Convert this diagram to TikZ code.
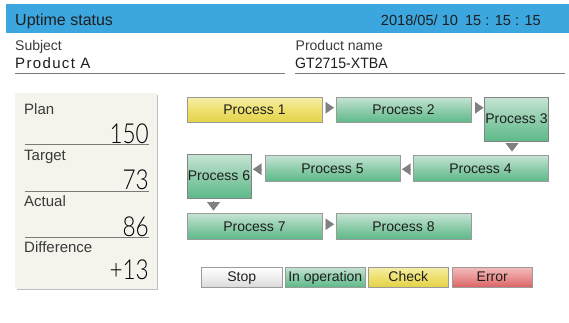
\documentclass[tikz,border=0pt]{standalone}
\usepackage{fontspec}
\setmainfont{Liberation Sans}
\newfontfamily\spaced[LetterSpace=9]{Liberation Sans}
\newfontfamily\narrowf[FakeStretch=0.94]{Liberation Sans}
\newfontfamily\thinfont[FakeStretch=0.82]{Lato Light}
\usetikzlibrary{arrows.meta}
\definecolor{hdr}{HTML}{3CA6DF}
\definecolor{panelc}{HTML}{F4F3EC}
\definecolor{edge}{HTML}{9A9A9A}
\definecolor{ink}{HTML}{1E1E1E}
\definecolor{rulec}{HTML}{7A7A7A}
\definecolor{tric}{HTML}{808080}
\definecolor{gtop}{HTML}{C6E4D4}
\definecolor{gmid}{HTML}{8FCDAB}
\definecolor{gbot}{HTML}{5EB98A}
\definecolor{ytop}{HTML}{F6EFA8}
\definecolor{ymid}{HTML}{EEE06E}
\definecolor{ybot}{HTML}{E3D24A}
\definecolor{rtop}{HTML}{F3BCBC}
\definecolor{rmid}{HTML}{E99393}
\definecolor{rbot}{HTML}{DB6365}
\definecolor{gymid}{HTML}{EFEFEF}
\definecolor{gybot}{HTML}{DADADA}
\definecolor{labc}{HTML}{3A3A3A}
\tikzset{
  x=1pt,y=-1pt,
  base/.style={anchor=north west,inner sep=0pt,outer sep=0pt,draw=edge,line width=0.9pt,text=ink,text height=10.5pt,text depth=1pt,font=\fontsize{14}{14}\selectfont,align=center},
  greenbox/.style={base,top color=gtop,bottom color=gbot,middle color=gmid},
  yellowbox/.style={base,top color=ytop,bottom color=ybot,middle color=ymid},
  redbox/.style={base,top color=rtop,bottom color=rbot,middle color=rmid},
  greybox/.style={base,top color=white,bottom color=gybot,middle color=gymid},
  wide/.style={minimum width=135pt,minimum height=25.5pt},
  tall/.style={minimum width=64pt,minimum height=44pt,draw=edge!85!black},
  legendbox/.style={minimum width=80.5pt,minimum height=20pt},
  flow/.style={-{Triangle[length=8.5pt,width=11.5pt]},tric,line width=0.1pt},
  flowdown/.style={-{Triangle[length=8.5pt,width=13pt]},tric,line width=0.1pt},
  lab/.style={anchor=base west,inner sep=0pt,text=labc,font=\fontsize{14}{14}\selectfont},
  panellab/.style={anchor=base west,inner sep=0pt,text=labc,font=\fontsize{15}{15}\selectfont},
  val/.style={anchor=base east,inner sep=0pt,text=black,font=\fontsize{27.5}{27.5}\selectfont\thinfont},
  sep/.style={draw=rulec,line width=1pt},
}
\begin{document}
\begin{tikzpicture}
\useasboundingbox (0,0) rectangle (569,322);
\fill[white] (0,0) rectangle (569,322);
% header
\fill[hdr] (6,4) rectangle (569,33);
\node[anchor=base west,inner sep=0pt,text=ink,font=\fontsize{16}{16}\selectfont] (title) at (15,25) {Uptime status};
\node[anchor=base east,inner sep=0pt,text=ink,font=\fontsize{14.6}{15}\selectfont] (clock) at (541,25) {2018/05/ 10\hspace{7pt}15 : 15 : 15};
% fields
\node[lab] (subj) at (15,50) {Subject};
\node[anchor=base west,inner sep=0pt,text=ink,font=\fontsize{15}{15}\selectfont\spaced] (subjv) at (15,68) {Product A};
\draw[sep] (15,73.5) -- (285,73.5);
\node[lab] (pname) at (295.5,50) {Product name};
\node[anchor=base west,inner sep=0pt,text=ink,font=\fontsize{15}{15}\selectfont\narrowf] (pnamev) at (295,68) {GT2715-XTBA};
\draw[sep] (295,73.5) -- (565,73.5);
% panel
\fill[black!25] (17,95) rectangle (158,290);
\fill[panelc] (15,93) rectangle (157,289);
\node[panellab] (plan) at (24,114) {Plan};
\node[val] (planv) at (149,143) {150};
\draw[sep] (25,144.5) -- (149,144.5);
\node[panellab] (target) at (24,160) {Target};
\node[val] (targetv) at (149,189) {73};
\draw[sep] (25,191) -- (149,191);
\node[panellab] (actual) at (24,206) {Actual};
\node[val] (actualv) at (149,236) {86};
\draw[sep] (25,237.5) -- (149,237.5);
\node[panellab] (diff) at (24,252.5) {Difference};
\node[val] (diffv) at (149,279) {+13};
% processes
\node[yellowbox,wide] (p1) at (187,97) {Process 1};
\node[greenbox,wide] (p2) at (336,97) {Process 2};
\node[greenbox,tall] (p3) at (484.5,97) {Process 3};
\node[greenbox,wide] (p4) at (413,155.5) {Process 4};
\node[greenbox,wide] (p5) at (265,155.5) {Process 5};
\node[greenbox,tall] (p6) at (187,154) {Process 6};
\node[greenbox,wide] (p7) at (187,213.5) {Process 7};
\node[greenbox,wide] (p8) at (336,213.5) {Process 8};
% connectors
\draw[flow,shorten <=3.5pt,shorten >=2pt] ([yshift=2pt]p1.east) -- ([yshift=2pt]p2.west);
\draw[flow,shorten <=3.5pt,shorten >=1pt] ([yshift=2pt]p2.east) -- ([yshift=2pt]p2.east -| p3.west);
\draw[flowdown,shorten <=1.5pt,shorten >=4pt] ([xshift=-4.5pt]p3.south) -- ([xshift=-4.5pt]p3.south |- p4.north);
\draw[flow,shorten <=2pt,shorten >=2pt] ([yshift=-1pt]p4.west) -- ([yshift=-1pt]p5.east);
\draw[flow,shorten <=3pt,shorten >=2pt] ([yshift=-1pt]p5.west) -- ([yshift=-1pt]p5.west -| p6.east);
\draw[flowdown,shorten <=3pt,shorten >=3pt] ([xshift=-5.5pt]p6.south) -- ([xshift=-5.5pt]p6.south |- p7.north);
\draw[flow,shorten <=3.5pt,shorten >=2pt] ([yshift=2pt]p7.east) -- ([yshift=2pt]p8.west);
% legend
\node[greybox,legendbox] (stop) at (201.5,267) {Stop};
\node[greenbox,legendbox] (run) at (285,267) {In operation};
\node[yellowbox,legendbox] (check) at (368,267) {Check};
\node[redbox,legendbox] (err) at (452,267) {Error};
\end{tikzpicture}
\end{document}
